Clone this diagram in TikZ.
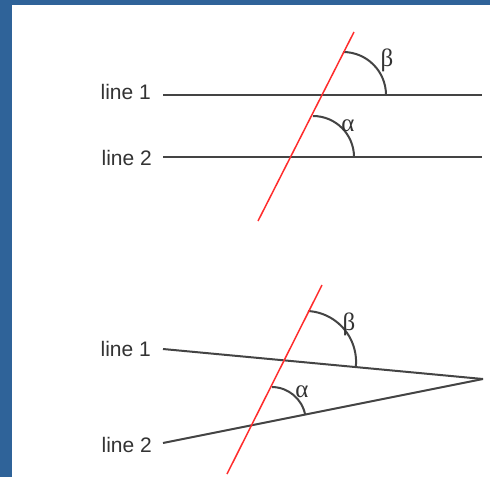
\documentclass[tikz,border=0pt]{standalone}
\usepackage{fontspec}
\setmainfont{Liberation Sans}
\newfontfamily\greekfont{Liberation Serif}
\definecolor{frameblue}{RGB}{47,99,153}
\definecolor{linegray}{RGB}{68,68,68}
\definecolor{textgray}{RGB}{51,51,51}
\definecolor{redline}{RGB}{255,45,45}
\tikzset{
  baseline/.style={draw=linegray, line width=2pt},
  transversal/.style={draw=redline, line width=1.5pt},
  anglearc/.style={draw=linegray, line width=2pt},
  linelabel/.style={anchor=base east, inner sep=0pt, text=textgray, font=\fontsize{21}{21}\selectfont},
  greeklabel/.style={inner sep=0pt, text=textgray, font=\greekfont\fontsize{25}{25}\selectfont}
}
\begin{document}
\begin{tikzpicture}[x=1pt,y=-1pt]
\useasboundingbox (0,0) rectangle (490,477);
\fill[frameblue] (0,0) rectangle (490,477);
\fill[white] (12,5) rectangle (490,477);

% ---------- top figure ----------
\coordinate (t1a) at (163,95);
\coordinate (t1b) at (482,95);
\coordinate (t2a) at (163,157);
\coordinate (t2b) at (482,157);
\coordinate (tra) at (354,32);
\coordinate (trb) at (258,221);
\node[linelabel] (tl1) at (151,99) {line 1};
\node[linelabel] (tl2) at (152,165) {line 2};
\draw[baseline] (t1a) -- (t1b);
\draw[baseline] (t2a) -- (t2b);
\draw[anglearc] (343,52) arc[start angle=-90, end angle=0, radius=43];
\draw[anglearc] (313,116) arc[start angle=-90, end angle=0, radius=41];
\draw[transversal] (tra) -- (trb);
\node[greeklabel] (tb) at (387,60) {β};
\node[greeklabel] (ta) at (348,126) {α};

% ---------- bottom figure ----------
\coordinate (b1a) at (163,349);
\coordinate (apex) at (483,379);
\coordinate (b2a) at (163,443);
\coordinate (bra) at (322,285);
\coordinate (brb) at (227,474);
\node[linelabel] (bl1) at (151,356) {line 1};
\node[linelabel] (bl2) at (152,452.5) {line 2};
\draw[baseline] (b1a) -- (apex);
\draw[baseline] (b2a) -- (apex);
\draw[anglearc] (308,311) arc[start angle=-86.7, end angle=5.3, radius=51];
\draw[anglearc] (272,387) arc[start angle=-89.3, end angle=-10.7, radius=34.2];
\draw[transversal] (bra) -- (brb);
\node[greeklabel] (bb) at (349,324) {β};
\node[greeklabel] (ba) at (302,392) {α};
\end{tikzpicture}
\end{document}
